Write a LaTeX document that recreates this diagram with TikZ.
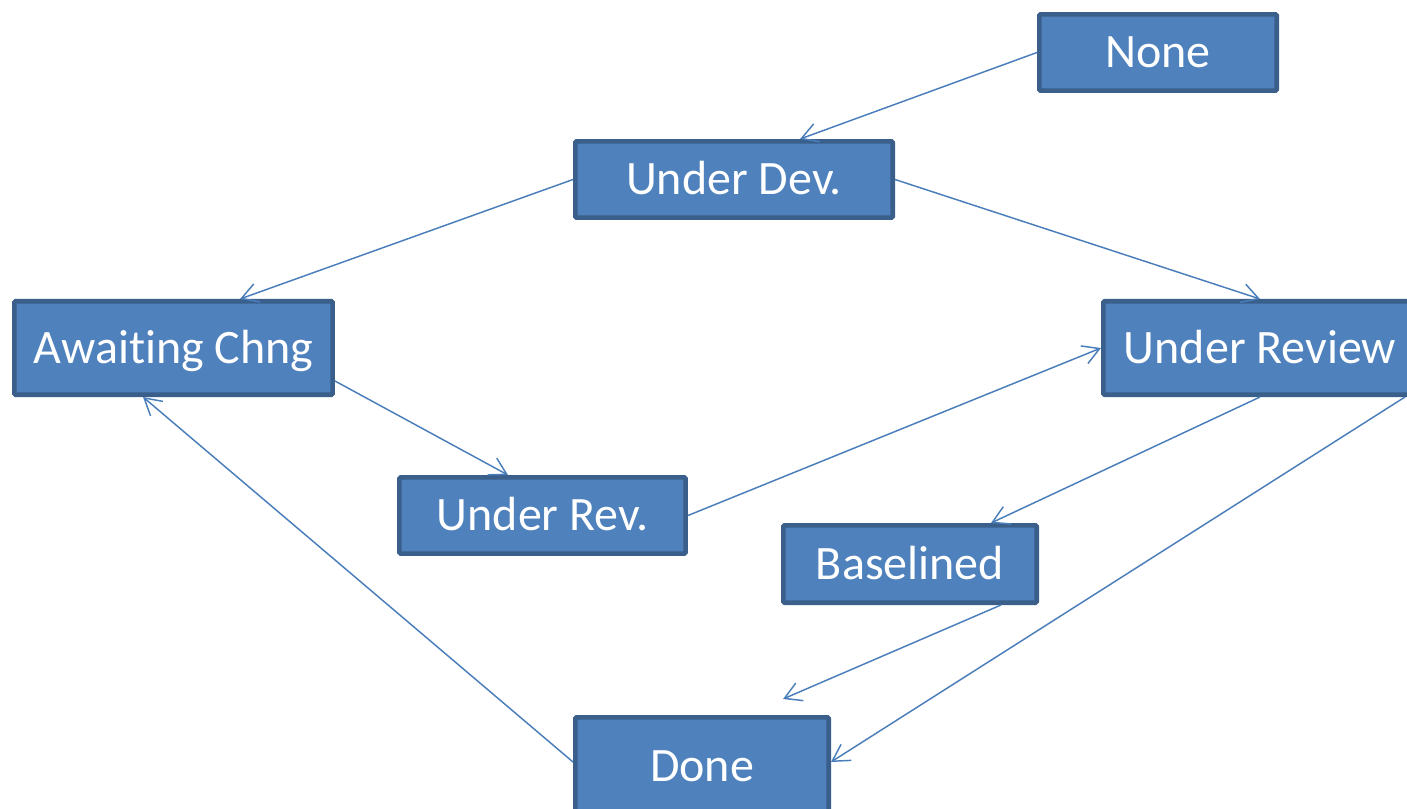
\documentclass[tikz,border=0pt]{standalone}
\usepackage{fontspec}
\setmainfont{Carlito}[RawFeature={-liga;-clig;-calt;-rlig;-dlig}]
\usetikzlibrary{arrows.meta,calc}
\definecolor{boxfill}{HTML}{4F81BD}
\definecolor{boxline}{HTML}{3A5F8B}
\definecolor{linkcol}{HTML}{4A7EBB}
\begin{document}
\begin{tikzpicture}[x=0.75pt,y=-0.75pt,
  state/.style={rectangle,fill=boxfill,draw=boxline,line width=3.5pt,
    rounded corners=1pt,text=white,inner sep=0pt,
    text height=23.2pt,text depth=0pt,
    font=\fontsize{36}{40}\selectfont},
  link/.style={draw=linkcol,line width=1.1pt,
    -{Straight Barb[length=12.4pt,width=14.3pt,line width=1.1pt]}}]
\useasboundingbox (0,0) rectangle (1407,809);
\clip (0,0) rectangle (1407,809);

% states
\node[state,minimum width=178pt,minimum height=57.2pt] (none) at (1158,52.5) {None};
\node[state,minimum width=238pt,minimum height=57.2pt] (udev) at (734,179.5) {Under Dev.};
\node[state,minimum width=238.7pt,minimum height=70pt] (await) at (173.5,348) {Awai\kern0ptting Chng};
\node[state,minimum width=235pt,minimum height=70pt] (ureview) at (1260,348) {Under Review};
\node[state,minimum width=214.7pt,minimum height=57.2pt] (urev) at (542.5,515.5) {Under Rev.};
\node[state,minimum width=190pt,minimum height=58pt] (basel) at (910,564) {Baselined};
\node[state,minimum width=190pt,minimum height=73pt] (done) at (702,766) {Done};

% loose end of the Baselined transition
\coordinate (bfree) at ($(done.north)+(81,-16)$);

% transitions
\draw[link] (none.west) -- ($(udev.north)+(66,0)$);
\draw[link] (udev.west) -- ($(await.north)+(66.5,0)$);
\draw[link] (udev.east) -- (ureview.north);
\draw[link] ($(await.east)+(0,33)$) -- ($(urev.north)+(-34.5,0)$);
\draw[link] (urev.east) -- (ureview.west);
\draw[link] (ureview.south) -- ($(basel.north)+(81,0)$);
\draw[link] ($(ureview.south)+(145,0)$) -- ($(done.east)+(0,-4)$);
\draw[link] ($(basel.south)+(91,0)$) -- (bfree);
\draw[link] ($(done.west)+(0,-4)$) -- ($(await.south)+(-30.5,0)$);
\end{tikzpicture}
\end{document}
